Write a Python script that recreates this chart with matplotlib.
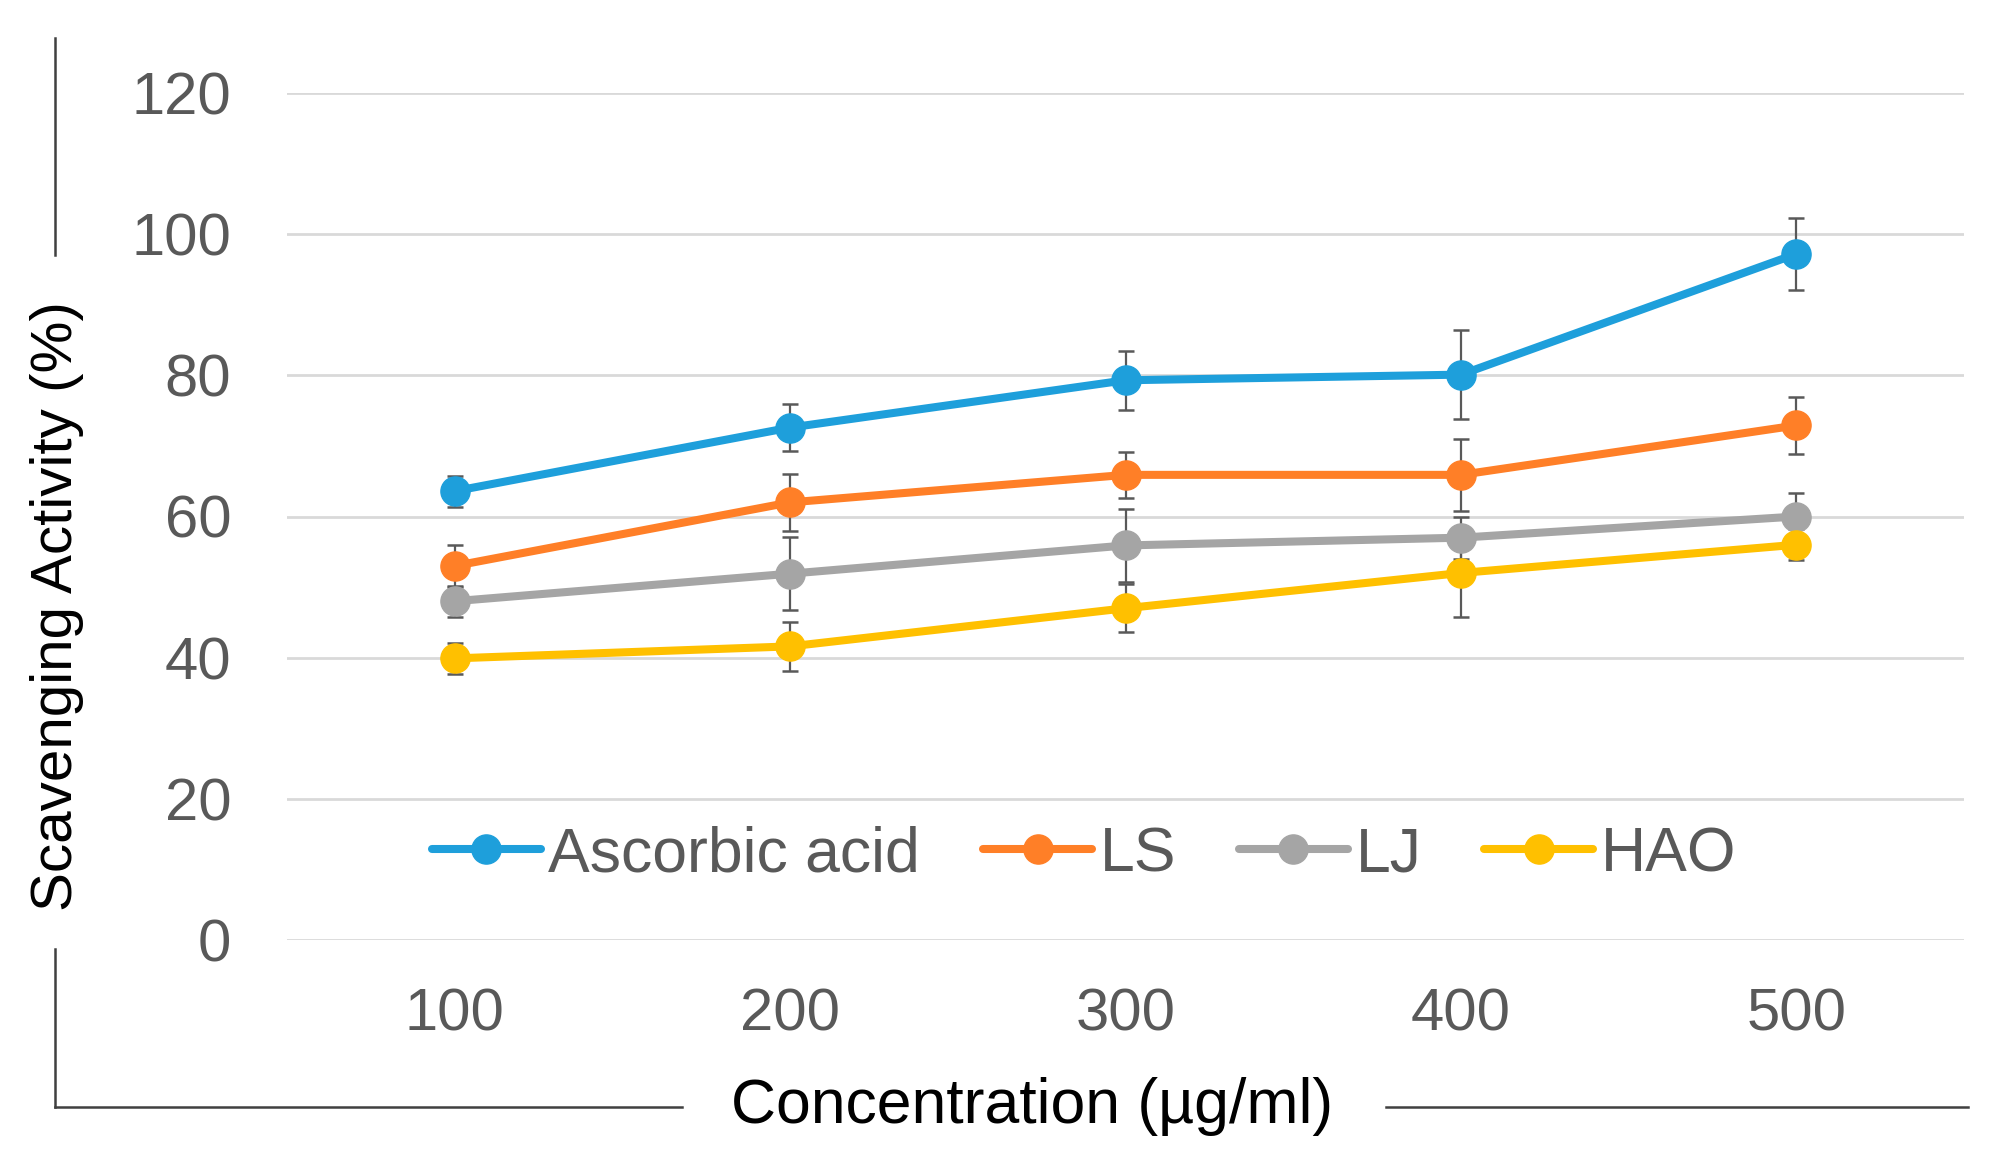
import matplotlib
matplotlib.use("Agg")
import matplotlib.pyplot as plt
from matplotlib.lines import Line2D

plt.rcParams['font.family'] = ['Liberation Sans', 'DejaVu Sans']

concentrations = ["100", "200", "300", "400", "500"]
ascorbic = [63.6, 72.6, 79.3, 80.1, 97.2]
ascorbic_err = [2.2, 3.3, 4.2, 6.3, 5.1]
ls_vals = [53.0, 62.0, 65.9, 65.9, 72.9]
ls_err = [3.0, 4.0, 3.3, 5.1, 4.0]
lj_vals = [48.0, 51.9, 55.9, 57.0, 60.0]
lj_err = [2.2, 5.2, 5.2, 3.0, 3.4]
hao_vals = [39.9, 41.6, 47.0, 52.0, 56.0]
hao_err = [2.2, 3.5, 3.4, 6.2, 2.2]
series_names = ["Ascorbic acid", "LS", "LJ", "HAO"]
colors = ["#1E9FDB", "#FF7F27", "#A5A5A5", "#FFC000"]
yticks = [0, 20, 40, 60, 80, 100, 120]

W, H = 1990, 1166
fig = plt.figure(figsize=(W / 100, H / 100), dpi=100)
ax = fig.add_axes([287 / W, 1 - 940 / H, (1964 - 287) / W, (940 - 93) / H])

xpos = [i + 0.5 for i in range(len(concentrations))]
data = [(ascorbic, ascorbic_err), (ls_vals, ls_err), (lj_vals, lj_err), (hao_vals, hao_err)]
handles = []
for (vals, errs), c, name in zip(data, colors, series_names):
    ax.errorbar(xpos, vals, yerr=errs, fmt='none', ecolor='#595959',
                elinewidth=1.6, capsize=5.5, capthick=1.8, zorder=2)
for (vals, errs), c, name in zip(data, colors, series_names):
    ax.plot(xpos, vals, color=c, lw=5.8, marker='o', ms=21,
            solid_capstyle='round', zorder=3)
    handles.append(Line2D([], [], color=c, lw=5.8, marker='o', ms=21,
                          solid_capstyle='round', label=name))

ax.set_xlim(0, 5)
ax.set_ylim(0, 120)
ax.set_yticks(yticks)
ax.set_xticks(xpos)
ax.set_xticklabels(concentrations)
ax.grid(axis='y', color='#D9D9D9', lw=2.0)
ax.set_axisbelow(True)
for s in ax.spines.values():
    s.set_visible(False)
ax.tick_params(axis='both', length=0, labelsize=43, labelcolor='#595959')
ax.tick_params(axis='y', pad=40)
ax.tick_params(axis='x', pad=34)

leg = ax.legend(handles=handles, loc='center', bbox_to_anchor=((1084 - 287) / (1964 - 287), 12.1 / 120),
                ncol=4, frameon=False, fontsize=45, handlelength=1.75, handletextpad=0.12,
                columnspacing=1.0, borderaxespad=0)
for t in leg.get_texts():
    t.set_color('#595959')

fig.text(57 / W, 1 - 606 / H, "Scavenging Activity (%)", rotation=90, ha='center', va='center',
         fontsize=42, color='black')
fig.text(1032 / W, 1 - 1106 / H, "Concentration (µg/ml)", ha='center', va='center',
         fontsize=45, color='black')

# border lines around axis titles
lc = '#404040'
fig.add_artist(Line2D([55 / W, 55 / W], [1 - 38 / H, 1 - 255 / H], color=lc, lw=1.8))
fig.add_artist(Line2D([55 / W, 55 / W], [1 - 949 / H, 1 - 1107 / H], color=lc, lw=1.8))
fig.add_artist(Line2D([55 / W, 682 / W], [1 - 1107 / H, 1 - 1107 / H], color=lc, lw=1.8))
fig.add_artist(Line2D([1386 / W, 1968 / W], [1 - 1107 / H, 1 - 1107 / H], color=lc, lw=1.8))

fig.savefig("out.png", dpi=100)
